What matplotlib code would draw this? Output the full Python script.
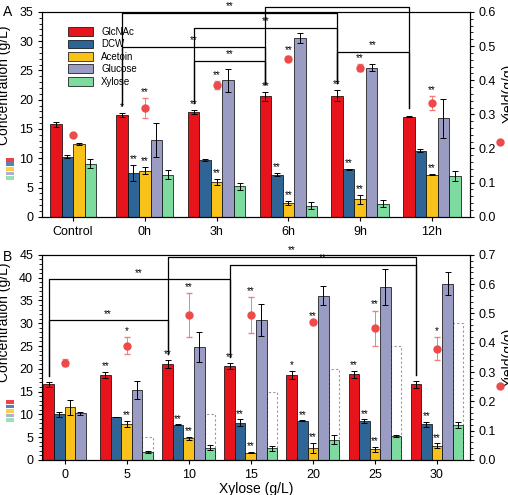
import matplotlib
matplotlib.use("Agg")
import matplotlib.pyplot as plt
import numpy as np
from matplotlib.patches import Rectangle
from matplotlib.lines import Line2D

plt.rcParams['font.family'] = ['Liberation Sans', 'DejaVu Sans']

series = ["GlcNAc", "DCW", "Acetoin", "Glucose", "Xylose"]
colors = ["#E8141B", "#2E6496", "#F9C21A", "#9B9CC4", "#7DDBA0"]

# ---- Panel A data ----
a_groups = ["Control", "0h", "3h", "6h", "9h", "12h"]
a_glc = [15.8, 17.4, 17.9, 20.6, 20.7, 17.1]
a_glc_e = [0.4, 0.4, 0.3, 0.8, 0.9, 0.1]
a_dcw = [10.3, 7.5, 9.7, 7.2, 8.1, 11.3]
a_dcw_e = [0.3, 1.3, 0.15, 0.3, 0.15, 0.3]
a_ace = [12.4, 7.9, 6.0, 2.4, 3.0, 7.2]
a_ace_e = [0.2, 0.6, 0.5, 0.3, 0.8, 0.1]
a_glu = [np.nan, 13.2, 23.3, 30.5, 25.5, 16.8]
a_glu_e = [0, 2.9, 2.0, 0.9, 0.6, 3.3]
a_xyl = [9.1, 7.2, 5.2, 1.9, 2.2, 7.0]
a_xyl_e = [0.7, 0.8, 0.6, 0.6, 0.6, 0.8]
a_yield = [0.24, 0.318, 0.385, 0.463, 0.437, 0.333]
a_yield_e = [0.0, 0.03, 0.012, 0.008, 0.01, 0.02]
a_stars = [["", "*", "**", "**", "**", ""],
           ["", "**", "", "**", "**", ""],
           ["", "**", "**", "**", "**", "**"],
           ["", "", "", "", "", ""],
           ["", "", "", "", "", ""]]
a_ystars = ["", "**", "**", "**", "**", "**"]
a_brackets = [(1, 3, 29.0), (2, 3, 26.6), (2, 4, 32.3), (1, 4, 34.8), (3, 5, 35.9), (4, 5, 28.2)]

# ---- Panel B data ----
b_groups = ["0", "5", "10", "15", "20", "25", "30"]
b_glc = [16.6, 18.7, 21.0, 20.6, 18.6, 18.8, 16.6]
b_glc_e = [0.6, 0.7, 0.9, 0.7, 0.9, 0.8, 0.8]
b_dcw = [10.0, 9.4, 7.7, 8.2, 8.6, 8.5, 7.8]
b_dcw_e = [0.6, 0.05, 0.1, 0.7, 0.05, 0.4, 0.5]
b_ace = [11.5, 7.9, 4.7, 1.6, 2.6, 2.3, 3.1]
b_ace_e = [1.6, 0.7, 0.3, 0.1, 1.2, 0.6, 0.5]
b_glu = [10.2, 15.4, 24.8, 30.7, 36.0, 37.9, 38.7]
b_glu_e = [0.4, 2.0, 3.3, 3.6, 2.1, 4.0, 2.5]
b_xyl = [np.nan, 1.7, 2.7, 2.5, 4.4, 5.3, 7.6]
b_xyl_e = [0, 0.2, 0.6, 0.6, 1.0, 0.2, 0.7]
b_xyl_init = [0, 5, 10, 15, 20, 25, 30]
b_yield = [0.332, 0.39, 0.495, 0.495, 0.472, 0.45, 0.38]
b_yield_e = [0.013, 0.03, 0.075, 0.06, 0.0, 0.06, 0.04]
b_stars = [["", "**", "**", "**", "*", "**", ""],
           ["", "", "**", "**", "**", "**", "**"],
           ["", "**", "**", "**", "**", "**", "**"],
           ["", "", "", "", "", "", ""],
           ["", "", "", "", "", "", ""]]
b_ystars = ["", "*", "**", "**", "**", "**", "*"]
b_brackets = [(0, 2, 30.7), (0, 3, 39.7), (2, 6, 44.6), (3, 6, 42.8)]

fig = plt.figure(figsize=(5.08, 4.95), dpi=100)
axA = fig.add_axes([0.083, 0.562, 0.842, 0.414])
axB = fig.add_axes([0.083, 0.071, 0.842, 0.414])

def style(ax):
    ax.tick_params(direction='out', labelsize=9, length=3)
    ax.minorticks_on()
    ax.tick_params(axis='x', which='minor', bottom=False)
    ax.tick_params(which='minor', length=2)

def panel(ax, groups, vals, errs, stars, yld, yld_e, ystars, brackets, w, ymax, ymax2, star_gap,
          xlim, lab_l, lab_r, xyl_init=None):
    x = np.arange(len(groups))
    red_x = []
    for gi in range(len(groups)):
        present = [k for k in range(5) if not np.isnan(vals[k][gi])]
        n = len(present)
        offs = (np.arange(n) - (n - 1) / 2) * w if n < 5 else (np.arange(5) - 2) * w
        red_x.append(x[gi] + offs[0])
        for j, k in enumerate(present):
            xp = x[gi] + offs[j]
            if k == 4 and xyl_init is not None and xyl_init[gi] > 0:
                ax.bar(xp, xyl_init[gi], w, fill=False, edgecolor='#999999', linestyle=(0, (2, 2)), linewidth=0.8, zorder=1)
            ax.bar(xp, vals[k][gi], w, color=colors[k], edgecolor='black', linewidth=0.5, zorder=2)
            ax.errorbar(xp, vals[k][gi], yerr=errs[k][gi], color='black', capsize=2, elinewidth=0.7, capthick=0.7, zorder=3)
            if stars[k][gi]:
                ax.text(xp, vals[k][gi] + errs[k][gi] + star_gap * 0.1, stars[k][gi], ha='center', va='bottom', fontsize=7)
    ax.set_xlim(*xlim)
    ax.set_ylim(0, ymax)
    ax.set_xticks(x)
    ax.set_xticklabels(groups, fontsize=10)
    ax.set_ylabel("Concentration (g/L)", fontsize=10)
    ax.yaxis.set_label_coords(-0.072, lab_l)
    for (i, j, yb) in brackets:
        xi = red_x[i]
        xj = red_x[j]
        yi = vals[0][i] + errs[0][i] + star_gap
        yj = vals[0][j] + errs[0][j] + star_gap
        ax.plot([xi, xi, xj, xj], [yi, yb, yb, yj], color='black', lw=0.9, clip_on=False, zorder=4)
        ax.text((xi + xj) / 2, yb + 0.3, "**", ha='center', va='bottom', fontsize=7, clip_on=False)
    ax2 = ax.twinx()
    ax2.errorbar(x, yld, yerr=yld_e, fmt='o', color='#EE4A4A', ecolor='#F08080', markersize=5, capsize=2, elinewidth=0.7, zorder=5)
    for gi in range(len(groups)):
        if ystars[gi]:
            ax2.text(x[gi], yld[gi] + yld_e[gi] + ymax2 * 0.005, ystars[gi], ha='center', va='bottom', fontsize=7)
    ax2.set_ylim(0, ymax2)
    ax2.set_ylabel("Yield(g/g)", fontsize=10)
    ax2.yaxis.set_label_coords(1.075, lab_r)
    style(ax); style(ax2)
    return ax2

panel(axA, a_groups, [a_glc, a_dcw, a_ace, a_glu, a_xyl], [a_glc_e, a_dcw_e, a_ace_e, a_glu_e, a_xyl_e],
      a_stars, a_yield, a_yield_e, a_ystars, a_brackets, 0.16, 35, 0.6, 1.3, (-0.43, 5.53), 0.64, 0.6)
axA.set_yticks(np.arange(0, 36, 5))
panel(axB, b_groups, [b_glc, b_dcw, b_ace, b_glu, b_xyl], [b_glc_e, b_dcw_e, b_ace_e, b_glu_e, b_xyl_e],
      b_stars, b_yield, b_yield_e, b_ystars, b_brackets, 0.17, 45, 0.7, 1.3, (-0.36, 6.53), 0.67, 0.5,
      xyl_init=b_xyl_init)
axB.set_yticks(np.arange(0, 46, 5))
axB.set_xlabel("Xylose (g/L)", fontsize=10, labelpad=1)

handles = [Rectangle((0, 0), 1, 1, facecolor=c, edgecolor='black', linewidth=0.5) for c in colors]
axA.legend(handles, series, loc='upper left', bbox_to_anchor=(0.04, 0.97), fontsize=7, frameon=False,
           handlelength=2.6, handleheight=1.0, labelspacing=0.25)

fig.text(0.005, 0.99, "A", fontsize=10, va='top')
fig.text(0.005, 0.495, "B", fontsize=10, va='top')

for top in (158, 400):
    for k, c in enumerate(colors):
        y = 1 - (top + k * 4.5) / 495
        fig.patches.append(Rectangle((0.012, y - 0.008), 0.016, 0.008, transform=fig.transFigure,
                                     facecolor=c, edgecolor='none', alpha=0.8))
for yy in (142, 386):
    fig.lines.append(Line2D([0.985], [1 - yy / 495], transform=fig.transFigure, marker='o',
                            color='#EE4A4A', markersize=5, linestyle='none'))

fig.savefig("out.png", dpi=100)
